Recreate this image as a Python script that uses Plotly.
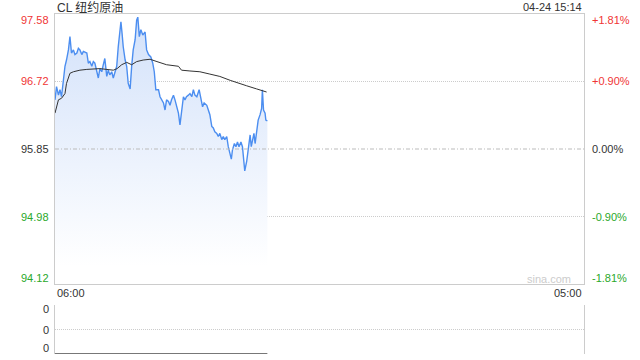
import plotly.graph_objects as go

# ---------------- data ----------------
title_text = "CL 纽约原油"
stamp_text = "04-24 15:14"
watermark = "sina.com"
prev_close = 95.85
price_ticks = [94.12, 94.98, 95.85, 96.72, 97.58]
pct_labels = ["-1.81%", "-0.90%", "0.00%", "+0.90%", "+1.81%"]
session_minutes = [0, 1380]          # 06:00 -> next day 05:00
time_labels = ["06:00", "05:00"]
vol_ticks = [0, 1, 2]
vol_labels = ["0", "0", "0"]

# minutes after 06:00
price_min = [0, 4, 9, 13, 17, 22, 26, 30, 35, 39, 43, 48, 52, 57, 61, 65, 70, 74, 83, 87,
             91, 96, 100, 104, 109, 113, 117, 122, 126, 130, 135, 139, 143, 148, 152, 156, 161, 165, 168, 172,
             175, 178, 183, 187, 191, 196, 200, 204, 209, 213, 216, 220, 224, 229, 235, 239, 244, 250, 255, 259,
             263, 270, 274, 278, 283, 287, 291, 296, 300, 304, 309, 313, 317, 322, 326, 330, 335, 339, 343, 348,
             352, 357, 361, 365, 370, 376, 381, 385, 389, 396, 400, 404, 409, 413, 417, 422, 426, 430, 435, 439,
             443, 448, 452, 457, 460, 463, 468, 472, 476, 480, 485, 489, 492, 495, 500, 504, 509, 512, 515, 519,
             522, 526, 530, 535, 539, 541, 544, 548, 550, 554]
price_val = [96.48, 96.65, 96.54, 96.61, 96.52, 96.78, 96.91, 96.99, 97.12, 97.29, 97.08, 97.12, 97.06, 97.08, 97.14, 97.12, 97.06, 97.10, 97.08, 96.95,
             96.97, 96.91, 96.97, 96.95, 96.84, 96.76, 96.88, 96.84, 96.93, 97.01, 96.78, 96.86, 96.80, 96.84, 96.76, 96.84, 96.91, 97.16, 97.33, 97.48,
             97.33, 97.16, 96.99, 96.91, 96.69, 96.62, 96.91, 97.12, 97.25, 97.50, 97.54, 97.29, 97.38, 97.31, 97.35, 97.12, 97.06, 97.03, 96.95, 96.84,
             96.61, 96.61, 96.52, 96.48, 96.44, 96.35, 96.48, 96.46, 96.41, 96.48, 96.54, 96.48, 96.39, 96.31, 96.16, 96.35, 96.52, 96.48, 96.52, 96.54,
             96.56, 96.52, 96.61, 96.54, 96.52, 96.61, 96.48, 96.39, 96.44, 96.41, 96.35, 96.29, 96.14, 96.12, 96.07, 96.05, 96.01, 96.05, 95.97, 96.01,
             95.97, 96.01, 95.88, 95.75, 95.72, 95.84, 95.92, 95.88, 95.94, 95.88, 95.94, 95.88, 95.71, 95.57, 95.69, 95.88, 96.03, 95.88, 95.97, 96.05,
             95.92, 96.09, 96.22, 96.29, 96.37, 96.61, 96.35, 96.31, 96.22, 96.21]

avg_min = [0, 9, 17, 26, 30, 35, 39, 48, 65, 83, 117, 152, 162, 174, 187, 200, 213, 230, 248, 266,
           291, 322, 330, 352, 378, 404, 430, 457, 474, 500, 526, 552]
avg_val = [96.31, 96.48, 96.50, 96.56, 96.69, 96.78, 96.82, 96.84, 96.86, 96.87, 96.88, 96.86, 96.88, 96.93, 96.96, 96.93, 96.97, 96.99, 97.00, 96.97,
           96.93, 96.91, 96.86, 96.85, 96.84, 96.81, 96.78, 96.73, 96.70, 96.66, 96.62, 96.58]

vol_val = [0] * len(price_min)

# ---------------- layout geometry ----------------
W, H = 640, 360
L, R = 55, 584
MT, MB = 14, 284
VT, VB = 305, 354
FONT = "Arial, Liberation Sans, Noto Sans CJK SC, sans-serif"


def px(v):
    return v / W


def py(v):
    return 1 - v / H


up, flat, down = "#f03535", "#333333", "#2aa82a"

fig = go.Figure()
fig.add_trace(go.Scatter(
    x=price_min, y=price_val, mode="lines",
    line=dict(color="#4c8ef0", width=1.4),
    fill="tozeroy",
    fillgradient=dict(type="vertical",
                      colorscale=[[0, "rgba(255,255,255,1)"], [1, "rgba(210,225,250,1)"]],
                      start=94.35, stop=97.6),
    hoverinfo="skip", xaxis="x", yaxis="y"))
fig.add_trace(go.Scatter(
    x=avg_min, y=avg_val, mode="lines",
    line=dict(color="#333333", width=1),
    hoverinfo="skip", xaxis="x", yaxis="y"))
fig.add_trace(go.Scatter(
    x=price_min, y=vol_val, mode="lines",
    line=dict(color="#777777", width=2),
    hoverinfo="skip", xaxis="x2", yaxis="y2"))

fig.add_shape(type="line", xref="x", yref="y", x0=session_minutes[0], x1=session_minutes[1],
              y0=prev_close, y1=prev_close, line=dict(color="#bbbbbb", width=1, dash="4px,2px,1px,2px"))

ann = []
for v, lab in zip(price_ticks, pct_labels):
    col = up if v > prev_close else (down if v < prev_close else flat)
    shift = -6 if v == max(price_ticks) else (6 if v == min(price_ticks) else 0)
    ann.append(dict(x=px(51), xref="paper", y=v, yref="y", text=f"{v:.2f}", showarrow=False,
                    xanchor="right", yanchor="middle", yshift=shift,
                    font=dict(color=col, size=11, family=FONT)))
    ann.append(dict(x=px(590), xref="paper", y=v, yref="y", text=lab, showarrow=False,
                    xanchor="left", yanchor="middle", yshift=shift,
                    font=dict(color=col, size=11, family=FONT)))
for v, lab in zip(vol_ticks, vol_labels):
    shift = -4 if v == max(vol_ticks) else (6 if v == min(vol_ticks) else 0)
    ann.append(dict(x=px(51), xref="paper", y=v, yref="y2", text=lab, showarrow=False,
                    xanchor="right", yanchor="middle", yshift=shift,
                    font=dict(color="#333333", size=11, family=FONT)))
ann.append(dict(x=session_minutes[0], xref="x", y=py(293), yref="paper", text=time_labels[0], showarrow=False,
                xanchor="left", yanchor="middle", font=dict(color="#333333", size=11, family=FONT)))
ann.append(dict(x=session_minutes[1], xref="x", y=py(293), yref="paper", text=time_labels[1], showarrow=False,
                xanchor="right", yanchor="middle", font=dict(color="#333333", size=11, family=FONT)))
ann.append(dict(x=px(L), xref="paper", y=py(7), yref="paper", text=title_text, showarrow=False,
                xanchor="left", yanchor="middle", font=dict(color="#333333", size=12, family=FONT)))
ann.append(dict(x=px(R), xref="paper", y=py(7), yref="paper", text=stamp_text, showarrow=False,
                xanchor="right", yanchor="middle", font=dict(color="#333333", size=11, family=FONT)))
ann.append(dict(x=px(573), xref="paper", y=py(279), yref="paper", text=watermark, showarrow=False,
                xanchor="right", yanchor="middle", font=dict(color="#cccccc", size=11, family=FONT)))

fig.update_layout(
    width=W, height=H, margin=dict(l=0, r=0, t=0, b=0),
    paper_bgcolor="white", plot_bgcolor="white", showlegend=False,
    annotations=ann,
    xaxis=dict(domain=[px(L), px(R)], range=session_minutes, anchor="y",
               showline=True, mirror=True, linecolor="#cccccc", linewidth=1,
               showgrid=False, showticklabels=False, zeroline=False, ticks=""),
    yaxis=dict(domain=[py(MB), py(MT)], range=[min(price_ticks), max(price_ticks)], anchor="x",
               showline=True, mirror=True, linecolor="#cccccc", linewidth=1,
               tickvals=[94.98, 96.72], showgrid=True, gridcolor="#cccccc", griddash="1px,1px",
               showticklabels=False, zeroline=False, ticks=""),
    xaxis2=dict(domain=[px(L), px(R)], range=session_minutes, anchor="y2",
                showline=False, showgrid=False, showticklabels=False, zeroline=False, ticks=""),
    yaxis2=dict(domain=[py(VB), py(VT)], range=[vol_ticks[0], vol_ticks[-1]], anchor="x2",
                showline=True, mirror=True, linecolor="#cccccc", linewidth=1,
                tickvals=vol_ticks, showgrid=True, gridcolor="#cccccc", griddash="1px,1px",
                showticklabels=False, zeroline=False, ticks=""),
)

fig.write_html("out.html")
